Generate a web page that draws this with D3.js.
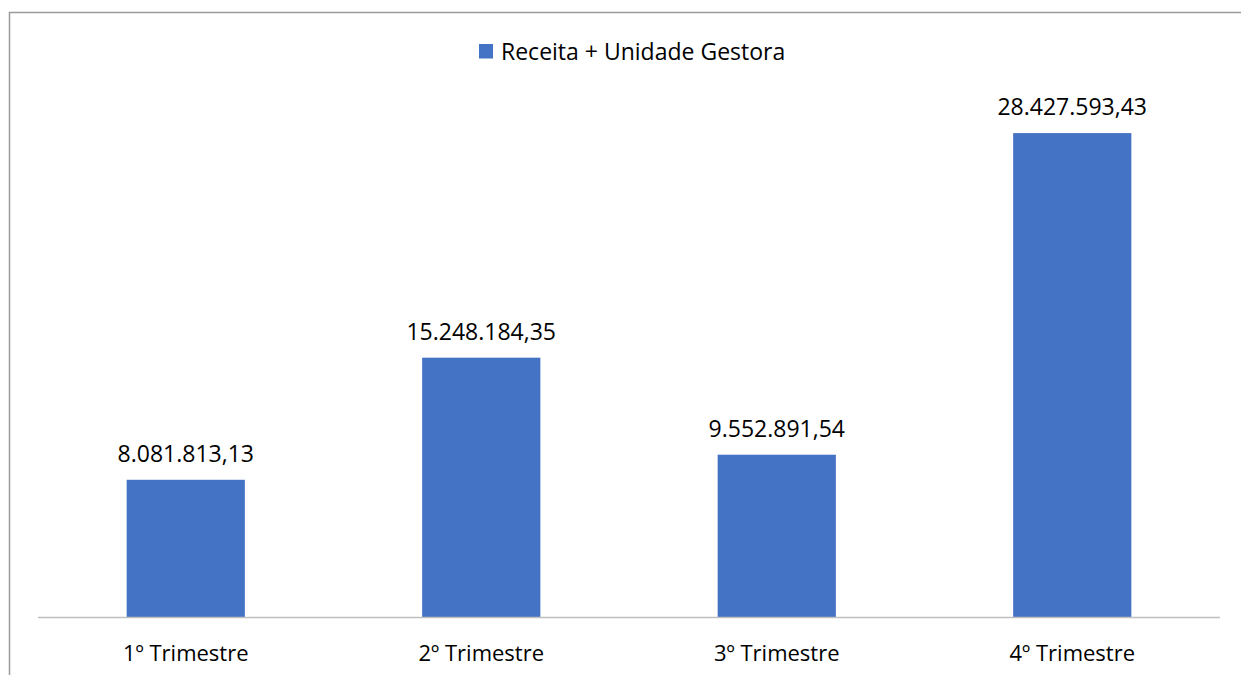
<!DOCTYPE html>
<html>
<head>
<meta charset="utf-8">
<script src="https://cdn.jsdelivr.net/npm/d3@7"></script>
<style>
  body { margin: 0; background: #fff; }
  svg { display: block; font-family: "Open Sans", "Noto Sans", sans-serif; }
</style>
</head>
<body>
<svg id="chart" width="1241" height="675"></svg>
<script>
const categories = ["1º Trimestre", "2º Trimestre", "3º Trimestre", "4º Trimestre"];
const values = [8081813.13, 15248184.35, 9552891.54, 28427593.43];
const seriesName = "Receita + Unidade Gestora";

const fmt = v => {
  const [int, dec] = v.toFixed(2).split(".");
  return int.replace(/\B(?=(\d{3})+(?!\d))/g, ".") + "," + dec;
};

const svg = d3.select("#chart");

// outer frame (runs off the right/bottom like the source)
svg.append("rect")
  .attr("x", 9.5)
  .attr("y", 12.5)
  .attr("width", 1260)
  .attr("height", 700)
  .attr("fill", "none")
  .attr("stroke", "#9a9a9a")
  .attr("stroke-width", 1.5);

const x = d3.scaleBand()
  .domain(categories)
  .range([38, 1220])
  .paddingInner(0.6)
  .paddingOuter(0.3);

const y = d3.scaleLinear()
  .domain([0, 30000000])
  .range([617.5, 106.3]);

svg.selectAll("rect.bar")
  .data(values)
  .enter()
  .append("rect")
  .attr("class", "bar")
  .attr("x", (d, i) => x(categories[i]))
  .attr("y", d => y(d))
  .attr("width", x.bandwidth())
  .attr("height", d => y(0) - y(d))
  .attr("fill", "#4472c4");

// baseline
svg.append("line")
  .attr("x1", 38)
  .attr("x2", 1220)
  .attr("y1", y(0))
  .attr("y2", y(0))
  .attr("stroke", "#bfbfbf")
  .attr("stroke-width", 1.5);

svg.selectAll("text.val")
  .data(values)
  .enter()
  .append("text")
  .attr("class", "val")
  .attr("x", (d, i) => x(categories[i]) + x.bandwidth() / 2)
  .attr("y", d => y(d) - 18)
  .attr("text-anchor", "middle")
  .attr("font-size", 23)
  .attr("fill", "#000")
  .text(d => fmt(d));

svg.selectAll("text.cat")
  .data(categories)
  .enter()
  .append("text")
  .attr("class", "cat")
  .attr("x", d => x(d) + x.bandwidth() / 2)
  .attr("y", 661)
  .attr("text-anchor", "middle")
  .attr("font-size", 22)
  .attr("fill", "#000")
  .text(d => d);

// legend
const legend = svg.append("g").attr("transform", "translate(479,44)");
legend.append("rect")
  .attr("width", 14)
  .attr("height", 14.5)
  .attr("fill", "#4472c4");
legend.append("text")
  .attr("x", 22)
  .attr("y", 16)
  .attr("font-size", 23)
  .attr("fill", "#000")
  .text(seriesName);
</script>
</body>
</html>
